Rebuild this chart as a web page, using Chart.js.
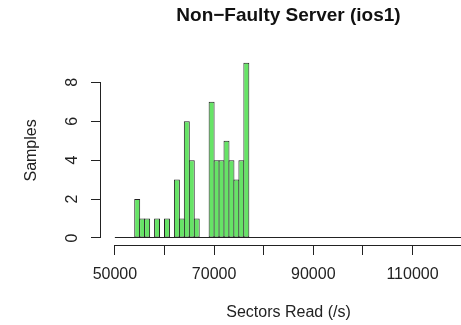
<!DOCTYPE html>
<html>
<head>
<meta charset="utf-8">
<script src="https://cdn.jsdelivr.net/npm/chart.js@4"></script>
<style>
  html, body { margin: 0; padding: 0; background: #fff; overflow: hidden; }
  .wrap { position: relative; width: 480px; height: 325px; }
</style>
</head>
<body>
<div class="wrap"><canvas id="hist"></canvas></div>
<script>
// histogram bins (left edge of each 1000-wide bin) and counts
var binLeft = [54000, 55000, 56000, 57000, 58000, 59000, 60000, 61000, 62000, 63000, 64000, 65000,
  66000, 67000, 68000, 69000, 70000, 71000, 72000, 73000, 74000, 75000, 76000];
var counts = [2, 1, 1, 0, 1, 0, 1, 0, 3, 1, 6, 4, 1, 0, 0, 7, 4, 4, 5, 4, 3, 4, 9];
var binWidth = 1000;

var xTicks = [50000, 60000, 70000, 80000, 90000, 100000, 110000, 120000];
var xTickLabels = ["50000", "", "70000", "", "90000", "", "110000", ""];
var yTicks = [0, 2, 4, 6, 8];

var barFill = "#66E466";
var ink = "#222222";
var font = "Liberation Sans, Arial, sans-serif";

var points = binLeft.map(function (b, i) {
  return { x: b + binWidth / 2, y: counts[i] };
});

// R style axes: lines only from first to last tick, plus the zero line of the histogram
var rAxes = {
  id: "rAxes",
  beforeDatasetsDraw: function (chart) {
    var ctx = chart.ctx, x = chart.scales.x, y = chart.scales.y;
    var y0 = Math.round(y.getPixelForValue(0)) - 0.5;
    ctx.save();
    ctx.strokeStyle = ink;
    ctx.lineWidth = 1;
    ctx.beginPath();
    ctx.moveTo(x.getPixelForValue(xTicks[0]), y0);
    ctx.lineTo(x.getPixelForValue(xTicks[xTicks.length - 1]), y0);
    ctx.stroke();
    ctx.restore();
  },
  afterDraw: function (chart) {
    var ctx = chart.ctx, x = chart.scales.x, y = chart.scales.y;
    var area = chart.chartArea;
    var bx = Math.round(area.bottom) + 0.5, lx = Math.round(area.left) - 0.5;
    ctx.save();
    ctx.strokeStyle = ink;
    ctx.lineWidth = 1;
    ctx.beginPath();
    ctx.moveTo(x.getPixelForValue(xTicks[0]), bx);
    ctx.lineTo(x.getPixelForValue(xTicks[xTicks.length - 1]), bx);
    ctx.moveTo(lx, y.getPixelForValue(yTicks[0]));
    ctx.lineTo(lx, y.getPixelForValue(yTicks[yTicks.length - 1]));
    ctx.stroke();
    ctx.restore();
  }
};

new Chart("hist", {
  type: "bar",
  data: {
    datasets: [{
      label: "Samples",
      data: points,
      backgroundColor: barFill,
      borderColor: ink,
      borderWidth: 1,
      borderSkipped: false,
      barPercentage: 1.2,   // bars overlap by 1px so neighbours share one edge
      categoryPercentage: 1
    }]
  },
  options: {
    responsive: true,
    maintainAspectRatio: false,
    animation: false,
    layout: { padding: { left: 0, right: 4, top: 0, bottom: 0 } },
    plugins: {
      legend: { display: false },
      tooltip: { enabled: false },
      title: {
        display: true,
        fullSize: false,
        text: "Non\u2212Faulty Server (ios1)",
        color: "#111",
        font: { family: font, size: 19, weight: "bold" },
        padding: { top: 4, bottom: 29 }
      }
    },
    scales: {
      x: {
        type: "linear",
        offset: false,
        min: 47200,
        max: 122800,
        afterBuildTicks: function (axis) {
          axis.ticks = xTicks.map(function (v) { return { value: v }; });
        },
        afterFit: function (axis) { axis.height = 80; },
        grid: { offset: false, drawOnChartArea: false, drawTicks: true, tickLength: 10, color: ink },
        border: { display: false },
        ticks: {
          autoSkip: false,
          maxRotation: 0,
          padding: 10,
          color: "#222",
          font: { family: font, size: 16 },
          callback: function (value) {
            var i = xTicks.indexOf(value);
            return i < 0 ? "" : xTickLabels[i];
          }
        },
        title: {
          display: true,
          text: "Sectors Read (/s)",
          color: "#222",
          font: { family: font, size: 16 },
          padding: { top: 0, bottom: 3 }
        }
      },
      y: {
        min: -0.36,
        max: 9.36,
        afterBuildTicks: function (axis) {
          axis.ticks = yTicks.map(function (v) { return { value: v }; });
        },
        afterFit: function (axis) { axis.width = 101; },
        grid: { drawOnChartArea: false, drawTicks: true, tickLength: 10, color: ink },
        border: { display: false },
        ticks: {
          minRotation: 90,
          maxRotation: 90,
          crossAlign: "center",
          padding: 14,
          color: "#222",
          font: { family: font, size: 16 }
        },
        title: {
          display: true,
          text: "Samples",
          color: "#222",
          font: { family: font, size: 16 },
          padding: { top: 22, bottom: 0 }
        }
      }
    }
  },
  plugins: [rAxes]
});
</script>
</body>
</html>
